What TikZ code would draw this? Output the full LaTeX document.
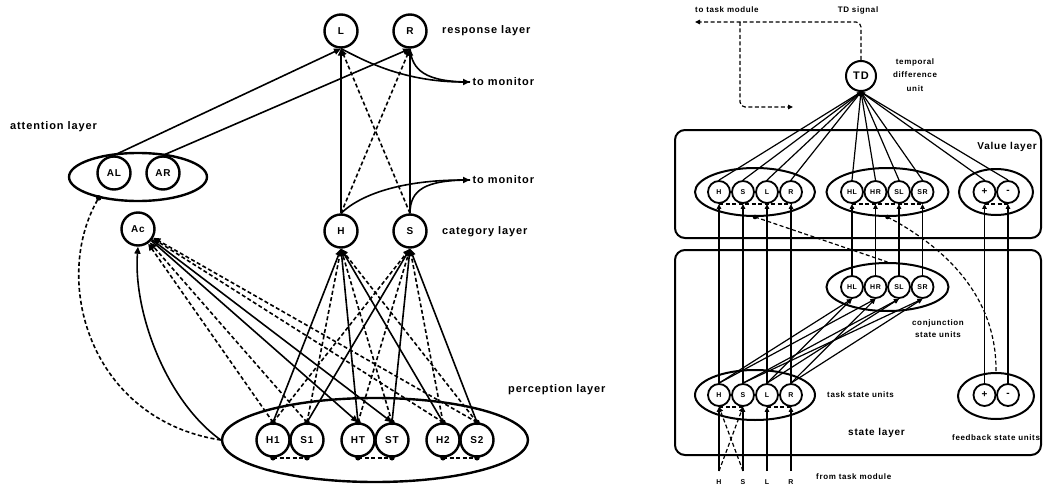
\documentclass[tikz,border=0pt]{standalone}
\usepackage{fontspec}
\setmainfont{Liberation Sans}
\newfontfamily\lbl[LetterSpace=8]{Liberation Sans}
\usetikzlibrary{arrows.meta,shapes.geometric}
\tikzset{
 biglbl/.style={font=\lbl\bfseries\fontsize{11}{13}\selectfont, inner sep=0pt},
 midlbl/.style={font=\lbl\bfseries\fontsize{10}{12}\selectfont, inner sep=0pt},
 smalllbl/.style={font=\lbl\bfseries\fontsize{8}{13.5}\selectfont, inner sep=0pt},
 tinylbl/.style={font=\lbl\bfseries\fontsize{7}{8}\selectfont, inner sep=0pt},
 unitA/.style={circle, draw, line width=2.4pt, minimum size=33pt, inner sep=0pt, font=\lbl\bfseries\fontsize{10}{12}\selectfont},
 unitB/.style={circle, draw, line width=1.8pt, minimum size=22pt, inner sep=0pt, font=\lbl\bfseries\fontsize{7}{8}\selectfont},
 signB/.style={font=\lbl\bfseries\fontsize{10}{10}\selectfont},
 unitTD/.style={circle, draw, line width=2pt, minimum size=30pt, inner sep=0pt, font=\lbl\bfseries\fontsize{11}{12}\selectfont},
 grpA/.style={ellipse, draw, line width=2.4pt, inner sep=0pt},
 grpB/.style={ellipse, draw, line width=2pt, inner sep=0pt},
 boxB/.style={draw, line width=2pt, rounded corners=10pt, inner sep=0pt},
 conA/.style={line width=1.6pt},
 conB/.style={line width=1.2pt},
 arrA/.style={-{Triangle[length=7pt,width=6pt]}},
 arrB/.style={-{Triangle[length=5pt,width=4.5pt]}},
 dsh/.style={dash pattern=on 4pt off 2.5pt},
}
\begin{document}
\begin{tikzpicture}[x=1pt,y=-1pt]
\useasboundingbox (0,0) rectangle (1045,487);

% ================= LEFT DIAGRAM =================
\node[grpA, minimum width=306pt, minimum height=84pt] (perc) at (375,440) {};
\node[grpA, minimum width=138pt, minimum height=48pt] (att) at (138,177) {};
\node[unitA] (AL) at (114,173) {AL};
\node[unitA] (AR) at (163,173) {AR};
\node[unitA] (Ac) at (138,229) {Ac};
\node[unitA] (L) at (341,31) {L};
\node[unitA] (R) at (410,31) {R};
\node[unitA] (H) at (341,231) {H};
\node[unitA] (S) at (410,231) {S};
\foreach \n/\x in {H1/273,S1/307,HT/358,ST/392,H2/443,S2/477}
  \node[unitA] (\n) at (\x,440) {\n};

\node[biglbl, anchor=west] (tresp) at (442,31) {response layer};
\node[biglbl, anchor=west] (tcat) at (442,232) {category layer};
\node[biglbl, anchor=west] (tatt) at (10,127) {attention layer};
\node[biglbl, anchor=west] (tperc) at (508,390) {perception layer};
\node[biglbl, anchor=west, inner sep=2.5pt] (mon1) at (470,82) {to monitor};
\node[biglbl, anchor=west, inner sep=2.5pt] (mon2) at (470,180) {to monitor};

% category -> response
\draw[conA,arrA] (H.north) -- (L.south);
\draw[conA,arrA] (S.north) -- (R.south);
\draw[conA,dsh,arrA] (H.north) -- (R.south);
\draw[conA,dsh,arrA] (S.north) -- (L.south);
% attention -> response
\draw[conA,arrA] (AL.north) -- (L.south);
\draw[conA,arrA] (AR.north) -- (R.south);
% to monitor
\draw[conA,arrA] (L.south) .. controls (360,58) and (400,82) .. (mon1.west);
\draw[conA] (R.south) .. controls (412,70) and (425,82) .. (mon1.west);
\draw[conA,arrA] (H.north) .. controls (360,195) and (400,180) .. (mon2.west);
\draw[conA] (S.north) .. controls (410,190) and (425,180) .. (mon2.west);

% perception -> category
\foreach \u/\st in {H1/solid,S1/dsh,HT/solid,ST/dsh,H2/solid,S2/dsh}
  \draw[conA,arrA,\st] (\u.north) -- (H.south);
\foreach \u/\st in {H1/dsh,S1/solid,HT/dsh,ST/solid,H2/dsh,S2/solid}
  \draw[conA,arrA,\st] (\u.north) -- (S.south);
% perception <-> Ac
\foreach \u in {H1,S1,H2,S2}
  \draw[conA,dsh,arrA] (\u.north) -- (Ac);
\draw[conA,arrA] (Ac) -- (HT.north);
\draw[conA,arrA] (Ac) -- (ST.north);
% curves
\draw[conA,arrA] (perc.west) .. controls (165,400) and (133,310) .. (Ac.south);
\draw[conA,dsh] (perc.west) .. controls (90,420) and (50,280) .. (att.208);
\fill (att.208) circle (2.8pt);
% lateral inhibition in perception layer
\foreach \a/\b in {H1/S1,HT/ST,H2/S2}
  \draw[conA,dsh] (\a.south) -- (\b.south);
\foreach \u in {H1,S1,HT,ST,H2,S2} {
  \fill (\u.north) circle (2.8pt);
  \fill (\u.south) circle (2.8pt);
}

% ================= RIGHT DIAGRAM =================
\node[boxB, minimum width=366pt, minimum height=108pt] (vbox) at (858,184) {};
\node[boxB, minimum width=366pt, minimum height=205pt] (sbox) at (858,352.5) {};

\node[grpB, minimum width=120pt, minimum height=48pt] (ve1) at (755,192) {};
\node[grpB, minimum width=122pt, minimum height=48pt] (ve2) at (887.5,192) {};
\node[grpB, minimum width=74pt, minimum height=46pt] (ve3) at (996,192) {};
\node[grpB, minimum width=122pt, minimum height=48pt] (conj) at (887.5,287) {};
\node[grpB, minimum width=120pt, minimum height=50pt] (task) at (755,395) {};
\node[grpB, minimum width=76pt, minimum height=46pt] (fb) at (996,396) {};

\node[unitTD] (TD) at (861,76) {TD};
\foreach \n/\t/\x in {vH/H/719,vS/S/743,vL/L/767,vR/R/791,vHL/HL/852,vHR/HR/875.5,vSL/SL/899,vSR/SR/922.5}
  \node[unitB] (\n) at (\x,192) {\t};
\node[unitB, signB] (vP) at (984.5,192) {+};
\node[unitB, signB] (vM) at (1008,192) {-};
\foreach \n/\t/\x in {cHL/HL/852,cHR/HR/875.5,cSL/SL/899,cSR/SR/922.5}
  \node[unitB] (\n) at (\x,287) {\t};
\foreach \n/\t/\x in {tH/H/719,tS/S/743,tL/L/767,tR/R/791}
  \node[unitB] (\n) at (\x,395) {\t};
\node[unitB, signB] (fP) at (984.5,395) {+};
\node[unitB, signB] (fM) at (1008,395) {-};

% texts
\node[smalllbl, anchor=west] (ttask) at (695,10) {to task module};
\node[smalllbl] (tsig) at (858,10) {TD signal};
\node[smalllbl, align=center] (ttd) at (915,75) {temporal\\difference\\unit};
\node[midlbl, anchor=east] (tval) at (1037,147) {Value layer};
\node[smalllbl, align=center, font=\lbl\bfseries\fontsize{8}{11.5}\selectfont] (tconj) at (938,328.5) {conjunction\\state units};
\node[smalllbl, anchor=west] (ttsu) at (827,395) {task state units};
\node[midlbl, anchor=west] (tsl) at (848,433) {state layer};
\node[smalllbl, anchor=west] (tfb) at (952,438) {feedback state units};
\node[smalllbl, anchor=west] (tfrom) at (816,477) {from task module};
\foreach \n/\t/\x in {iH/H/719,iS/S/743,iL/L/767,iR/R/791}
  \node[tinylbl] (\n) at (\x,482) {\t};
\foreach \n/\x in {cH/719,cS/743,cL/767,cR/791}
  \coordinate (\n) at (\x,471);

% TD signal dashed
\coordinate (tdl) at (695,22);
\coordinate (tdr) at (793,107);
\coordinate (tdb) at (740,22);
\draw[conB,dsh,arrB,rounded corners=5pt] (TD.north) |- (tdl);
\draw[conB,dsh,arrB,rounded corners=5pt] (tdb) |- (tdr);

% value -> TD
\foreach \n in {vH,vS,vL,vR,vHL,vHR,vSL,vSR,vP,vM}
  \draw[conB,-{Triangle[length=4pt,width=3.5pt]}] (\n.north) -- (TD.south);

% state -> value
\foreach \a/\b in {tH/vH,tS/vS,tL/vL,tR/vR,cHL/vHL,cHR/vHR,cSL/vSL,cSR/vSR,fP/vP,fM/vM}
  \draw[conB,arrB] (\a.north) -- (\b.south);
% task -> conjunction
\foreach \a/\b in {tH/cHL,tH/cHR,tS/cSL,tS/cSR,tL/cHL,tL/cSL,tR/cHR,tR/cSR}
  \draw[conB,arrB] (\a.north) -- (\b.south);
% inputs
\draw[conB,arrB] (cH) -- (tH.south);
\draw[conB,arrB] (cS) -- (tS.south);
\draw[conB,arrB] (cL) -- (tL.south);
\draw[conB,arrB] (cR) -- (tR.south);
\draw[conB,dsh,arrB] (cH) -- (tS.south);
\draw[conB,dsh,arrB] (cS) -- (tH.south);

% lateral dashed
\draw[conB,dsh] (vH.south) -- (vR.south);
\draw[conB,dsh] (vHL.south) -- (vSR.south);
\draw[conB,dsh] (vP.south) -- (vM.south);
\draw[conB,dsh] (tH.south) -- (tS.south);
\draw[conB,dsh] (tL.south) -- (tR.south);

% value ellipse -> state dashed
\draw[conB,dsh] (ve1.south) -- (conj.north);
\draw[conB,dsh] (ve2.south) .. controls (950,250) and (997,300) .. (fb.north);
\fill (ve1.south) circle (2.3pt);
\fill (ve2.south) circle (2.3pt);
\end{tikzpicture}
\end{document}
